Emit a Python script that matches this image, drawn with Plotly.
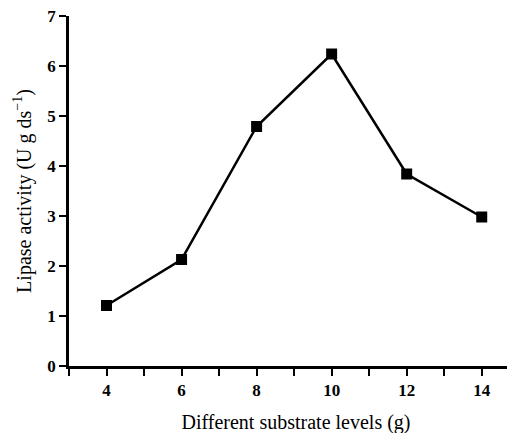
import plotly.graph_objects as go

substrate = [4, 6, 8, 10, 12, 14]
activity = [1.21, 2.13, 4.79, 6.24, 3.84, 2.98]

x_tickvals = [4, 6, 8, 10, 12, 14]
y_tickvals = [0, 1, 2, 3, 4, 5, 6, 7]

fig = go.Figure()
fig.add_trace(go.Scatter(
    x=substrate, y=activity, mode="lines+markers",
    line=dict(color="black", width=2.5),
    marker=dict(symbol="square", size=11, color="black"),
    showlegend=False,
))

# page body adds an 8px offset; margins compensate for it
fig.update_layout(
    width=515, height=433,
    margin=dict(l=61, r=0, t=8, b=75),
    paper_bgcolor="white", plot_bgcolor="white",
    font=dict(family="Liberation Serif", color="black"),
)
fig.update_xaxes(
    range=[3, 15.1], tickvals=x_tickvals, automargin=False,
    ticklabeloverflow="allow",
    ticks="outside", ticklen=7, tickwidth=2, tickcolor="black",
    minor=dict(dtick=1, tick0=3, ticks="outside", ticklen=7, tickwidth=2, tickcolor="black", showgrid=False),
    showline=True, linecolor="black", linewidth=2.5,
    showgrid=False, zeroline=False,
    tickfont=dict(family="Liberation Serif", size=17, color="black", weight="bold"),
    title=dict(text="Different substrate levels (g)", standoff=16,
               font=dict(family="Liberation Serif", size=20, color="black")),
)
fig.update_yaxes(
    range=[0, 7], tickvals=y_tickvals, automargin=False,
    ticklabeloverflow="allow",
    ticks="outside", ticklen=7, tickwidth=2, tickcolor="black",
    showline=True, linecolor="black", linewidth=2.5,
    showgrid=False, zeroline=False,
    tickfont=dict(family="Liberation Serif", size=17, color="black", weight="bold"),
    title=dict(text="Lipase activity (U g ds<sup>−1</sup>)", standoff=11,
               font=dict(family="Liberation Serif", size=20, color="black")),
)
fig.write_html("out.html")
